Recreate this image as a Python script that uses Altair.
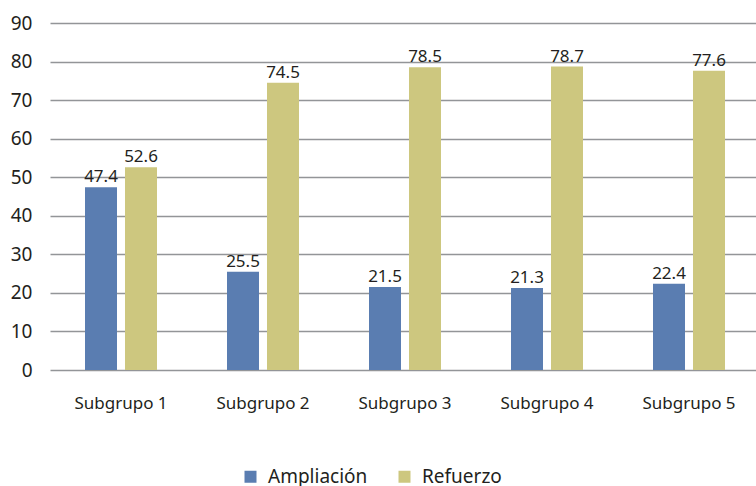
import altair as alt
import pandas as pd

categories = ["Subgrupo 1", "Subgrupo 2", "Subgrupo 3", "Subgrupo 4", "Subgrupo 5"]
series = ["Ampliación", "Refuerzo"]
ampliacion = [47.4, 25.5, 21.5, 21.3, 22.4]
refuerzo = [52.6, 74.5, 78.5, 78.7, 77.6]
y_ticks = [0, 10, 20, 30, 40, 50, 60, 70, 80, 90]
colors = ["#5a7db1", "#cdc77f"]

rows = []
for c, a, r in zip(categories, ampliacion, refuerzo):
    rows.append({"grupo": c, "serie": series[0], "valor": a})
    rows.append({"grupo": c, "serie": series[1], "valor": r})
df = pd.DataFrame(rows)

FONT = "Noto Sans"
TXT = "#231f20"

x = alt.X("grupo:N", sort=categories, title=None,
          scale=alt.Scale(range=[2, 712], paddingInner=0.493, paddingOuter=0.2465),
          axis=alt.Axis(labelAngle=0, labelFontSize=17, labelColor=TXT, labelFont=FONT,
                        ticks=False, domain=False, grid=False, labelPadding=25))
xoff = alt.XOffset("serie:N", sort=series, scale=alt.Scale(paddingInner=0.2, paddingOuter=0))
y = alt.Y("valor:Q", title=None,
          scale=alt.Scale(domain=[0, 90], nice=False),
          axis=alt.Axis(values=y_ticks, labelFontSize=19, labelColor=TXT, labelFont=FONT,
                        ticks=False, domain=False, labelPadding=16,
                        gridColor="#939598", gridWidth=1.5, gridOpacity=1))

bars = alt.Chart(df).mark_bar().encode(
    x=x, xOffset=xoff, y=y,
    color=alt.Color("serie:N", sort=series, title=None,
                    scale=alt.Scale(domain=series, range=colors),
                    legend=alt.Legend(orient="none", direction="horizontal", legendX=193, legendY=444,
                                      symbolType="square", symbolSize=144, symbolStrokeWidth=0,
                                      labelFontSize=19, labelColor=TXT, labelFont=FONT,
                                      columnPadding=27, labelOffset=8))
)

labels = alt.Chart(df).mark_text(baseline="alphabetic", dy=-5, fontSize=17, color=TXT, font=FONT).encode(
    x=x, xOffset=xoff, y=y,
    text=alt.Text("valor:Q", format=".1f")
)

chart = (bars + labels).properties(
    width=708, height=347,
    autosize=alt.AutoSizeParams(type="none"),
    padding={"left": 48, "top": 23, "right": 0, "bottom": 116},
    background="white",
).configure_view(stroke=None)

chart.save("out.html", embed_options={"renderer": "svg", "actions": False})
